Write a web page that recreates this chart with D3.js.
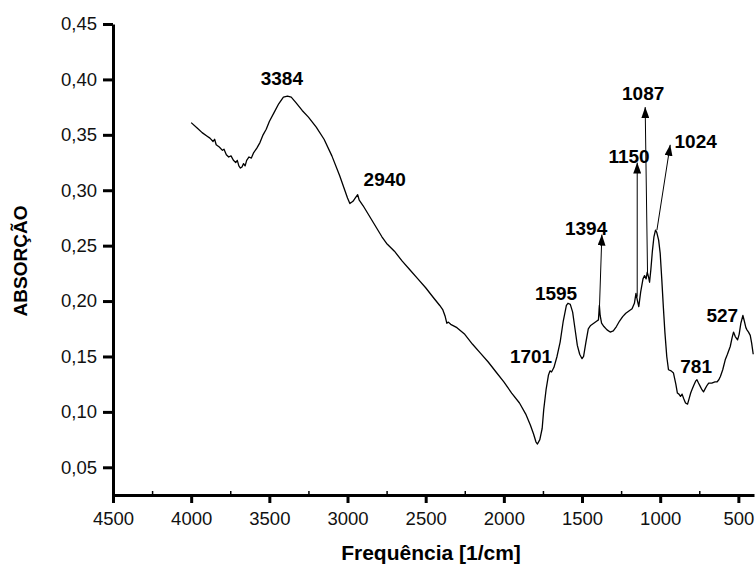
<!DOCTYPE html>
<html>
<head>
  <meta charset="utf-8">
  <script src="https://d3js.org/d3.v7.min.js"></script>
  <style>
    body { margin: 0; background: #fff; }
    text { font-family: "Liberation Sans", Arial, sans-serif; }
  </style>
</head>
<body>
<script type="text/javascript">

  // FTIR spectrum: wavenumber (1/cm) and absorbance
  var wavenumbers = [
    4000, 3960, 3930, 3900, 3880, 3860, 3850, 3840, 3820, 3800, 3790, 3775, 3760, 3745, 3730,
    3715, 3705, 3695, 3685, 3675, 3665, 3655, 3645, 3630, 3615, 3600, 3580, 3560, 3540, 3520,
    3500, 3470, 3440, 3410, 3384, 3360, 3330, 3290, 3250, 3200, 3150, 3100, 3050, 3000, 2985,
    2965, 2950, 2935, 2925, 2900, 2870, 2840, 2810, 2780, 2750, 2700, 2650, 2600, 2550, 2500,
    2450, 2410, 2390, 2375, 2365, 2355, 2340, 2300, 2250, 2200, 2150, 2100, 2050, 2000, 1950,
    1900, 1860, 1830, 1810, 1795, 1785, 1770, 1755, 1745, 1730, 1715, 1705, 1695, 1680, 1660,
    1640, 1620, 1600, 1590, 1575, 1560, 1545, 1530, 1515, 1500, 1490, 1475, 1460, 1445, 1425,
    1405, 1395, 1389, 1384, 1375, 1360, 1340, 1320, 1300, 1280, 1260, 1240, 1220, 1200, 1180,
    1165, 1155, 1145, 1137, 1125, 1110, 1100, 1090, 1083, 1075, 1068, 1060, 1050, 1040, 1030,
    1022, 1010, 1000, 990, 980, 970, 958, 947, 930, 915, 900, 890, 880, 870, 860,
    850, 838, 825, 815, 805, 797, 785, 772, 765, 755, 744, 733, 723, 712, 700,
    690, 670, 650, 637, 625, 615, 600, 584, 570, 552, 540, 531, 520, 505, 495,
    484, 471, 462, 452, 445, 435, 424, 415, 405
  ];
  var absorbance = [
    0.361, 0.356, 0.352, 0.349, 0.347, 0.344, 0.346, 0.341, 0.339, 0.336, 0.337, 0.332, 0.330, 0.331, 0.327,
    0.325, 0.327, 0.322, 0.320, 0.321, 0.324, 0.322, 0.327, 0.330, 0.329, 0.334, 0.338, 0.343, 0.350, 0.355,
    0.362, 0.370, 0.378, 0.384, 0.385, 0.384, 0.379, 0.372, 0.366, 0.357, 0.346, 0.331, 0.313, 0.293, 0.288,
    0.290, 0.293, 0.296, 0.291, 0.286, 0.279, 0.272, 0.265, 0.258, 0.252, 0.245, 0.236, 0.228, 0.220, 0.212,
    0.203, 0.196, 0.192, 0.186, 0.180, 0.181, 0.179, 0.176, 0.170, 0.161, 0.153, 0.145, 0.136, 0.127, 0.117,
    0.108, 0.098, 0.088, 0.080, 0.073, 0.071, 0.075, 0.085, 0.102, 0.120, 0.133, 0.137, 0.136, 0.140, 0.150,
    0.163, 0.182, 0.196, 0.198, 0.197, 0.190, 0.175, 0.160, 0.152, 0.148, 0.150, 0.163, 0.175, 0.178, 0.180,
    0.182, 0.183, 0.196, 0.187, 0.180, 0.177, 0.174, 0.172, 0.173, 0.177, 0.182, 0.186, 0.189, 0.191, 0.193,
    0.198, 0.207, 0.200, 0.195, 0.208, 0.220, 0.223, 0.220, 0.226, 0.222, 0.217, 0.228, 0.245, 0.258, 0.264,
    0.262, 0.255, 0.243, 0.220, 0.195, 0.172, 0.150, 0.138, 0.137, 0.135, 0.125, 0.117, 0.116, 0.114, 0.116,
    0.112, 0.108, 0.107, 0.112, 0.117, 0.120, 0.124, 0.128, 0.129, 0.126, 0.123, 0.120, 0.118, 0.121, 0.124,
    0.126, 0.126, 0.127, 0.127, 0.129, 0.132, 0.138, 0.147, 0.152, 0.159, 0.167, 0.172, 0.168, 0.165, 0.170,
    0.180, 0.187, 0.182, 0.176, 0.174, 0.172, 0.169, 0.162, 0.152
  ];

  var xTicks = [4500, 4000, 3500, 3000, 2500, 2000, 1500, 1000, 500];
  var yTicks = [0.05, 0.10, 0.15, 0.20, 0.25, 0.30, 0.35, 0.40, 0.45];

  // plain peak labels (label, wavenumber of label centre, absorbance at baseline)
  var peakNames = ["3384", "2940", "1701", "1595", "781", "527"];
  var peakX     = [3420, 2762, 1826, 1666, 770, 603];
  var peakY     = [0.395, 0.304, 0.144, 0.201, 0.135, 0.181];

  // arrowed labels: arrow from (x0,y0) to (x1,y1), label at (lx,ly)
  var arrowNames = ["1394", "1150", "1087", "1024"];
  var arrowX0 = [1389, 1147, 1081, 1021];
  var arrowY0 = [0.192, 0.204, 0.225, 0.264];
  var arrowX1 = [1373, 1147, 1096, 936];
  var arrowY1 = [0.260, 0.325, 0.375, 0.341];
  var arrowLX = [1474, 1199, 1109, 773];
  var arrowLY = [0.260, 0.325, 0.381, 0.338];

  var width = 755, height = 566;
  var plotL = 113, plotR = 754, plotT = 24, plotB = 495;

  var svg = d3.select("body").append("svg")
      .attr("width", width)
      .attr("height", height);

  var x = d3.scaleLinear().domain([4500, 400]).range([plotL, plotR]);
  var y = d3.scaleLinear().domain([0.025, 0.45]).range([plotB, plotT]);

  var fmt = function (d) { return d3.format(".2f")(d).replace(".", ","); };

  // arrow head
  svg.append("defs").append("marker")
      .attr("id", "head")
      .attr("viewBox", "0 0 10 10")
      .attr("preserveAspectRatio", "none")
      .attr("refX", 10).attr("refY", 5)
      .attr("markerWidth", 11).attr("markerHeight", 8)
      .attr("markerUnits", "userSpaceOnUse")
      .attr("orient", "auto")
    .append("path")
      .attr("d", "M0,0 L10,5 L0,10 Z")
      .attr("fill", "#000");

  // spectrum
  var pts = wavenumbers.map(function (w, i) { return [w, absorbance[i]]; });
  svg.append("path")
      .datum(pts)
      .attr("fill", "none")
      .attr("stroke", "#000")
      .attr("stroke-width", 1.3)
      .attr("stroke-linejoin", "round")
      .attr("d", d3.line()
        .x(function (d) { return x(d[0]); })
        .y(function (d) { return y(d[1]); }));

  // axes
  var xAxis = svg.append("g")
      .attr("transform", "translate(0," + plotB + ")")
      .call(d3.axisBottom(x).tickValues(xTicks).tickSize(8).tickSizeOuter(0).tickPadding(9)
        .tickFormat(d3.format("d")));
  var xMinor = svg.append("g")
      .attr("transform", "translate(0," + plotB + ")")
      .call(d3.axisTop(x).tickValues(xTicks.slice(0, -1).map(function (d) { return d - 250; }))
        .tickSize(4).tickSizeOuter(0).tickFormat(""));
  xMinor.select(".domain").remove();
  xMinor.selectAll("line").attr("stroke-width", 1.5);

  var yAxis = svg.append("g")
      .attr("transform", "translate(" + plotL + ",0)")
      .call(d3.axisLeft(y).tickValues(yTicks).tickSize(10).tickSizeOuter(0).tickPadding(6)
        .tickFormat(fmt));

  [xAxis, yAxis].forEach(function (a) {
    a.select(".domain").attr("stroke-width", 3);
    a.selectAll(".tick line").attr("stroke-width", 3);
    a.selectAll(".tick text")
        .style("font-family", "'Liberation Sans', Arial, sans-serif")
        .style("font-size", "18.5px")
        .attr("fill", "#111");
  });

  // axis titles
  svg.append("text")
      .attr("x", 431).attr("y", 560)
      .attr("text-anchor", "middle")
      .style("font-size", "21px").style("font-weight", "bold")
      .text("Frequência [1/cm]");
  svg.append("text")
      .attr("transform", "translate(27,261) rotate(-90)")
      .attr("text-anchor", "middle")
      .style("font-size", "19px").style("font-weight", "bold")
      .text("ABSORÇÃO");

  // peak labels
  svg.selectAll("text.peak")
      .data(peakNames)
      .enter().append("text")
      .attr("class", "peak")
      .attr("x", function (d, i) { return x(peakX[i]); })
      .attr("y", function (d, i) { return y(peakY[i]); })
      .attr("text-anchor", "middle")
      .style("font-size", "19px").style("font-weight", "bold")
      .text(function (d) { return d; });

  // arrows
  svg.selectAll("line.arrow")
      .data(arrowNames)
      .enter().append("line")
      .attr("class", "arrow")
      .attr("x1", function (d, i) { return x(arrowX0[i]); })
      .attr("y1", function (d, i) { return y(arrowY0[i]); })
      .attr("x2", function (d, i) { return x(arrowX1[i]); })
      .attr("y2", function (d, i) { return y(arrowY1[i]); })
      .attr("stroke", "#000")
      .attr("stroke-width", 1)
      .attr("marker-end", "url(#head)");

  svg.selectAll("text.arrowlabel")
      .data(arrowNames)
      .enter().append("text")
      .attr("class", "arrowlabel")
      .attr("x", function (d, i) { return x(arrowLX[i]); })
      .attr("y", function (d, i) { return y(arrowLY[i]); })
      .attr("text-anchor", "middle")
      .style("font-size", "19px").style("font-weight", "bold")
      .text(function (d) { return d; });

</script>
</body>
</html>
